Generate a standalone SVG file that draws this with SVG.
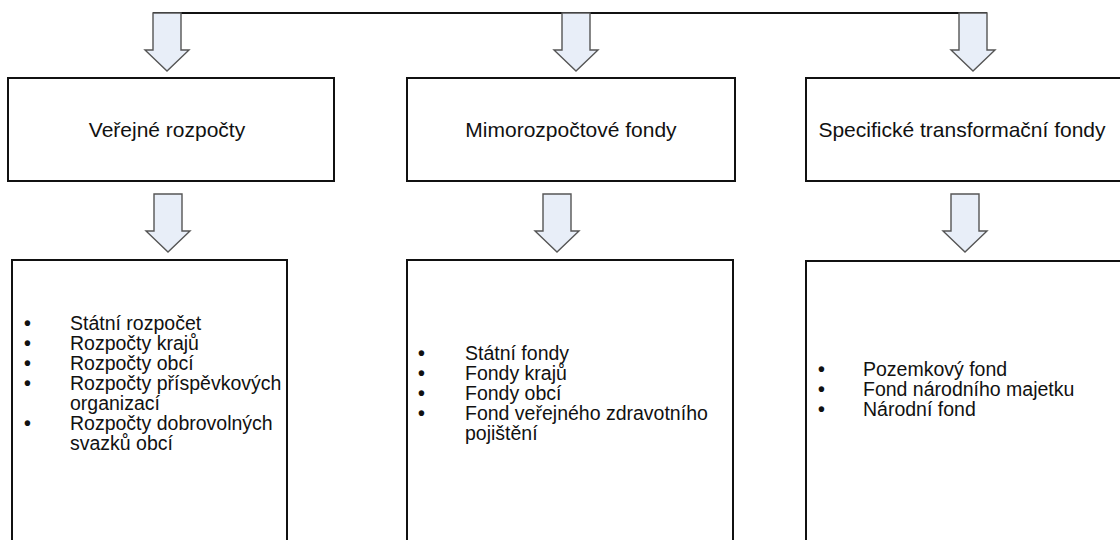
<svg xmlns="http://www.w3.org/2000/svg" width="1120" height="540" viewBox="0 0 1120 540">
  <defs>
    <style>
      .box { fill: #ffffff; stroke: #111111; stroke-width: 2; }
      .arrow { fill: #e8eef8; stroke: #555555; stroke-width: 1.4; stroke-linejoin: miter; }
      .bus { stroke: #111111; stroke-width: 2; fill: none; }
      .title { font-family: "Liberation Sans", Arial, sans-serif; font-size: 21px; fill: #111111; text-anchor: middle; }
      .item { font-family: "Liberation Sans", Arial, sans-serif; font-size: 19.5px; fill: #111111; }
      .bullet { font-family: "Liberation Sans", Arial, sans-serif; font-size: 19.5px; font-weight: bold; fill: #111111; }
    </style>
    <!-- block arrow pointing down, tip at (0,0) -->
    <path id="down" d="M -14 -58 L 14 -58 L 14 -21 L 22 -21 L 0 0 L -22 -21 L -14 -21 Z"/>
  </defs>

  <g id="connectors">
    <line class="bus" x1="153" y1="13" x2="987" y2="13"/>
    <use href="#down" class="arrow" x="167" y="71"/>
    <use href="#down" class="arrow" x="576" y="71"/>
    <use href="#down" class="arrow" x="973" y="71"/>
    <use href="#down" class="arrow" x="168" y="252"/>
    <use href="#down" class="arrow" x="557" y="252"/>
    <use href="#down" class="arrow" x="965" y="252"/>
  </g>

  <g id="verejne-rozpocty">
    <rect class="box" x="8" y="78" width="326" height="103"/>
    <text class="title" x="167" y="137">Veřejné rozpočty</text>
  </g>

  <g id="mimorozpoctove-fondy">
    <rect class="box" x="407" y="78" width="328" height="103"/>
    <text class="title" x="571" y="137">Mimorozpočtové fondy</text>
  </g>

  <g id="transformacni-fondy">
    <rect class="box" x="806" y="78" width="330" height="103"/>
    <text class="title" x="962" y="137">Specifické transformační fondy</text>
  </g>

  <g id="seznam-rozpoctu">
    <rect class="box" x="12" y="260" width="275" height="290"/>
    <g class="bullet">
      <text x="24" y="330">•</text>
      <text x="24" y="350">•</text>
      <text x="24" y="370">•</text>
      <text x="24" y="390">•</text>
      <text x="24" y="430">•</text>
    </g>
    <g class="item">
      <text x="70" y="330">Státní rozpočet</text>
      <text x="70" y="350">Rozpočty krajů</text>
      <text x="70" y="370">Rozpočty obcí</text>
      <text x="70" y="390">Rozpočty příspěvkových</text>
      <text x="70" y="410">organizací</text>
      <text x="70" y="430">Rozpočty dobrovolných</text>
      <text x="70" y="450">svazků obcí</text>
    </g>
  </g>

  <g id="seznam-mimorozpoctovych">
    <rect class="box" x="407" y="260" width="326" height="290"/>
    <g class="bullet">
      <text x="418" y="360">•</text>
      <text x="418" y="380">•</text>
      <text x="418" y="400">•</text>
      <text x="418" y="420">•</text>
    </g>
    <g class="item">
      <text x="465" y="360">Státní fondy</text>
      <text x="465" y="380">Fondy krajů</text>
      <text x="465" y="400">Fondy obcí</text>
      <text x="465" y="420">Fond veřejného zdravotního</text>
      <text x="465" y="440">pojištění</text>
    </g>
  </g>

  <g id="seznam-transformacnich">
    <rect class="box" x="806" y="261" width="330" height="290"/>
    <g class="bullet">
      <text x="818" y="376">•</text>
      <text x="818" y="396">•</text>
      <text x="818" y="416">•</text>
    </g>
    <g class="item">
      <text x="863" y="376">Pozemkový fond</text>
      <text x="863" y="396">Fond národního majetku</text>
      <text x="863" y="416">Národní fond</text>
    </g>
  </g>
</svg>
